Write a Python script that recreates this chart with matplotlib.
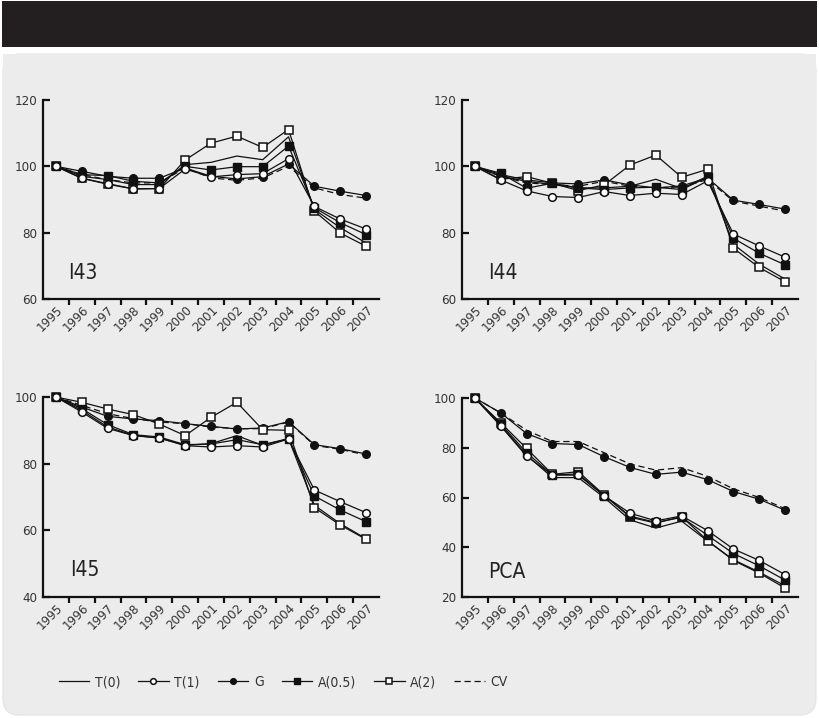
import matplotlib
matplotlib.use("Agg")
import matplotlib.pyplot as plt
from matplotlib.patches import FancyBboxPatch, Rectangle
from matplotlib.lines import Line2D

plt.rcParams['font.family'] = ['DejaVu Sans']
plt.rcParams['font.stretch'] = 'condensed'

years = [str(y) for y in range(1995, 2008)]
series_names = ["T(0)", "T(1)", "G", "A(0.5)", "A(2)", "CV"]

# I43
i43_t0 = [100, 97.0, 96.0, 94.5, 94.5, 100.5, 101.2, 103.1, 102.0, 108.9, 87.0, 81.5, 76.9]
i43_t1 = [100, 96.4, 94.6, 93.2, 93.3, 99.2, 96.8, 97.5, 97.8, 102.3, 87.9, 84.1, 81.1]
i43_g = [100, 98.5, 97.0, 96.4, 96.4, 99.5, 97.0, 96.2, 96.9, 100.7, 94.0, 92.5, 91.2]
i43_a05 = [100, 97.5, 97.2, 95.5, 95.0, 100.0, 98.9, 99.9, 99.9, 106.1, 87.5, 83.0, 79.4]
i43_a2 = [100, 96.4, 94.8, 93.2, 93.3, 101.9, 107.0, 109.1, 105.7, 111.1, 86.5, 79.9, 75.9]
i43_cv = [100, 97.5, 96.0, 95.0, 95.0, 99.5, 96.5, 95.8, 96.5, 100.0, 93.5, 91.5, 90.4]

# I44
i44_t0 = [100, 97.0, 95.5, 94.5, 93.5, 93.5, 94.0, 96.1, 93.3, 97.0, 76.5, 70.5, 66.0]
i44_t1 = [100, 95.9, 92.6, 90.9, 90.6, 92.4, 91.2, 91.9, 91.5, 95.6, 79.6, 76.0, 72.6]
i44_g = [100, 97.5, 95.9, 95.0, 94.7, 95.9, 94.4, 93.5, 94.1, 96.5, 89.8, 88.5, 87.1]
i44_a05 = [100, 97.9, 93.4, 94.9, 93.5, 93.0, 93.5, 93.7, 93.0, 96.7, 78.3, 73.8, 70.3]
i44_a2 = [100, 96.1, 96.9, 94.9, 92.7, 94.4, 100.4, 103.4, 96.7, 99.1, 75.3, 69.5, 65.2]
i44_cv = [100, 97.0, 95.0, 94.5, 94.0, 95.5, 94.0, 93.5, 93.8, 96.0, 89.5, 88.0, 86.5]

# I45
i45_t0 = [100, 96.0, 91.0, 88.5, 87.7, 85.5, 86.0, 88.4, 85.5, 87.5, 67.5, 62.0, 57.5]
i45_t1 = [100, 95.5, 90.6, 88.4, 87.7, 85.4, 85.0, 85.4, 85.0, 87.4, 72.1, 68.6, 65.3]
i45_g = [100, 97.0, 94.2, 93.4, 92.9, 92.0, 91.2, 90.4, 90.7, 92.6, 85.7, 84.5, 82.9]
i45_a05 = [100, 96.5, 91.7, 88.7, 88.0, 85.7, 85.9, 87.2, 85.7, 87.5, 70.3, 66.1, 62.6]
i45_a2 = [100, 98.4, 96.4, 94.7, 91.9, 88.4, 93.9, 98.4, 90.2, 90.0, 66.8, 61.6, 57.3]
i45_cv = [100, 97.5, 95.0, 93.5, 92.5, 92.0, 91.0, 90.5, 90.5, 92.5, 85.5, 84.3, 82.6]

# PCA
pca_t0 = [100, 89.0, 77.0, 68.0, 68.0, 60.0, 51.0, 47.7, 50.5, 42.5, 35.0, 30.0, 24.5]
pca_t1 = [100, 88.7, 76.6, 69.0, 69.0, 60.7, 53.7, 50.6, 52.6, 46.7, 39.3, 34.7, 29.0]
pca_g = [100, 94.0, 85.7, 81.7, 81.3, 76.4, 72.1, 69.3, 70.2, 67.2, 62.4, 59.3, 54.9]
pca_a05 = [100, 89.5, 78.0, 69.0, 69.5, 60.8, 52.5, 50.0, 52.0, 44.8, 37.5, 32.5, 26.8]
pca_a2 = [100, 90.0, 79.7, 69.3, 70.4, 61.0, 52.1, 49.7, 52.3, 42.7, 34.7, 29.6, 23.6]
pca_cv = [100, 94.0, 87.0, 82.5, 82.5, 78.0, 73.5, 71.0, 72.0, 68.5, 63.5, 60.0, 55.5]

panels = [
    ("I43", [i43_t0, i43_t1, i43_g, i43_a05, i43_a2, i43_cv], (60, 120), [60, 80, 100, 120]),
    ("I44", [i44_t0, i44_t1, i44_g, i44_a05, i44_a2, i44_cv], (60, 120), [60, 80, 100, 120]),
    ("I45", [i45_t0, i45_t1, i45_g, i45_a05, i45_a2, i45_cv], (40, 100), [40, 60, 80, 100]),
    ("PCA", [pca_t0, pca_t1, pca_g, pca_a05, pca_a2, pca_cv], (20, 100), [20, 40, 60, 80, 100]),
]

# estilo de cada serie
estilos = {
    "T(0)": dict(color="#111111", lw=0.9, ls="-", marker=None),
    "T(1)": dict(color="#111111", lw=0.9, ls="-", marker="o", mfc="white", mec="#111111", ms=5.5, mew=1.1),
    "G": dict(color="#111111", lw=0.9, ls="-", marker="o", mfc="#111111", mec="#111111", ms=5.5),
    "A(0.5)": dict(color="#111111", lw=0.9, ls="-", marker="s", mfc="#111111", mec="#111111", ms=6),
    "A(2)": dict(color="#111111", lw=0.9, ls="-", marker="s", mfc="white", mec="#111111", ms=6, mew=1.1),
    "CV": dict(color="#111111", lw=0.9, ls=(0, (5, 3)), marker=None),
}
orden = ["CV", "T(0)", "G", "A(2)", "A(0.5)", "T(1)"]

W, H = 819, 718
fig = plt.figure(figsize=(W / 100, H / 100), dpi=100)
fig.patch.set_facecolor("white")

# fondo: banda negra y panel gris (detras de los ejes)
fig.add_artist(Rectangle((2 / W, 1 - 47 / H), 815 / W, 46 / H, transform=fig.transFigure,
                         facecolor="#231f20", edgecolor="none", zorder=-10))
fig.add_artist(FancyBboxPatch((3 / W, 3 / H), 813 / W, (H - 57) / H,
                              boxstyle="round,pad=0,rounding_size=0.02", transform=fig.transFigure,
                              facecolor="#ececec", edgecolor="#e2e2e2", lw=0.8, mutation_aspect=W / H,
                              zorder=-10))
# esquinas superiores rectas
fig.add_artist(Rectangle((3 / W, 0.5), 813 / W, (H / 2 - 54) / H, transform=fig.transFigure,
                         facecolor="#ececec", edgecolor="none", zorder=-9))

boxes = [(43, 100, 379, 299), (462, 100, 798, 299), (43, 397, 379, 597), (462, 398, 798, 597)]
labpos = [(68, 273), (488, 273), (70, 570), (488, 572)]

for (nombre, datos, ylim, yticks), (x0, y0, x1, y1), (lx, ly) in zip(panels, boxes, labpos):
    ax = fig.add_axes([x0 / W, 1 - y1 / H, (x1 - x0) / W, (y1 - y0) / H])
    ax.set_facecolor("none")
    x = list(range(len(years)))
    for nm in orden:
        st = dict(estilos[nm])
        ax.plot(x, datos[series_names.index(nm)], clip_on=False, **st)
    ax.set_xlim(-0.5, len(years) - 0.5)
    ax.set_ylim(*ylim)
    ax.set_yticks(yticks)
    ax.set_xticks(x)
    ax.set_xticklabels(years, rotation=45, ha="right", va="top", rotation_mode="anchor")
    ax.set_xticks([i + 0.5 for i in range(len(years) - 1)], minor=True)
    ax.tick_params(axis="x", which="major", length=0, pad=3, labelsize=9.5, labelcolor="#333333")
    ax.tick_params(axis="x", which="minor", length=4, width=1.6, direction="out", color="#111111")
    ax.tick_params(axis="y", length=5, width=1.6, direction="in", pad=4, labelsize=9.5,
                   labelcolor="#333333", color="#111111")
    for s in ["top", "right"]:
        ax.spines[s].set_visible(False)
    for s in ["left", "bottom"]:
        ax.spines[s].set_linewidth(1.6)
        ax.spines[s].set_color("#111111")
    fig.text(lx / W, 1 - ly / H, nombre, fontsize=15, color="#222222", ha="left", va="center")

handles = []
for nm in series_names:
    st = dict(estilos[nm])
    if st.get("ms"):
        st["ms"] = st["ms"] * 0.75
    handles.append(Line2D([], [], **st))
fig.legend(handles, series_names, loc="center left", bbox_to_anchor=(46 / W, 1 - 682 / H), ncol=6,
           frameon=False, handlelength=2.2, handletextpad=0.4, columnspacing=1.3, fontsize=10,
           labelcolor="#333333")

fig.savefig("out.png", dpi=100)
